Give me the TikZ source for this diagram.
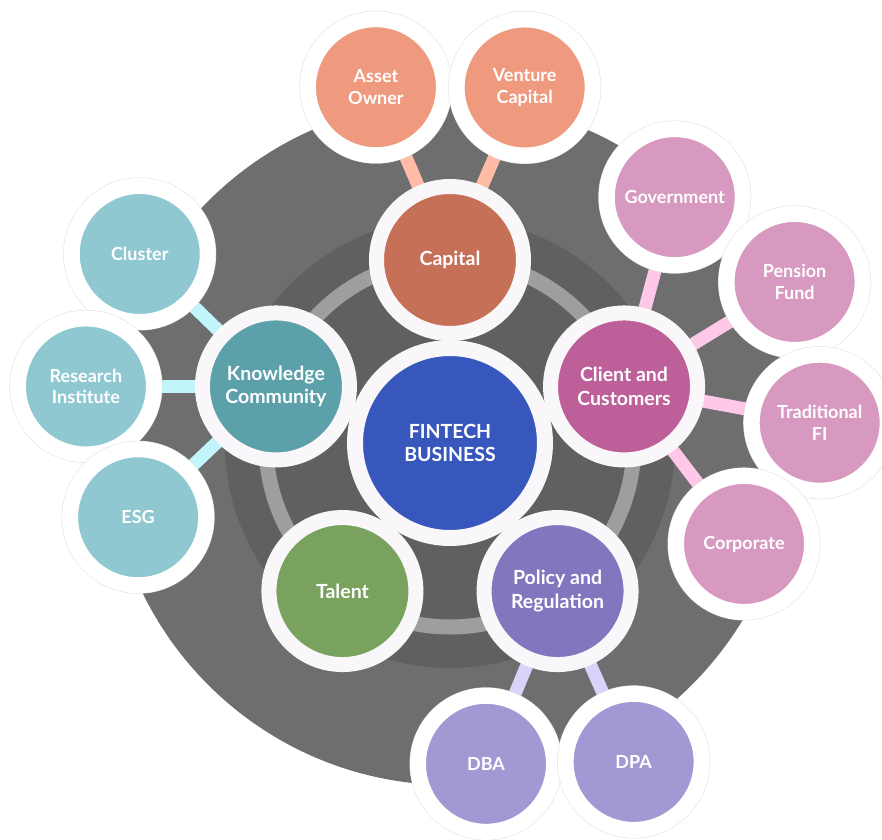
\documentclass[tikz,border=0pt]{standalone}
\usepackage{fontspec}
\setmainfont{Lato}
\usetikzlibrary{backgrounds}

\definecolor{outerdisc}{HTML}{6E6E6E}
\definecolor{innerdisc}{HTML}{606060}
\definecolor{orbit}{HTML}{9E9E9E}
\definecolor{ringwhite}{HTML}{F9F7F9}
\definecolor{core}{HTML}{3757BD}
\definecolor{capital}{HTML}{C67058}
\definecolor{capsub}{HTML}{EF9A7E}
\definecolor{capline}{HTML}{FFBBA6}
\definecolor{knowledge}{HTML}{5CA0AA}
\definecolor{knowsub}{HTML}{8FC8D1}
\definecolor{knowline}{HTML}{C2F5FB}
\definecolor{client}{HTML}{BD5F99}
\definecolor{clientsub}{HTML}{D799BF}
\definecolor{clientline}{HTML}{FFC8E9}
\definecolor{talent}{HTML}{79A25F}
\definecolor{policy}{HTML}{8277BE}
\definecolor{policysub}{HTML}{A398D3}
\definecolor{policyline}{HTML}{D9D2FA}

\tikzset{
  bubble/.style={circle, inner sep=0pt, align=center, text=white,
    font=\bfseries\fontsize{19.5}{23.3}\selectfont},
  hub/.style={bubble, fill=#1, draw=ringwhite, line width=15pt, minimum size=147pt},
  leaf/.style={bubble, fill=#1, draw=white, line width=16pt, minimum size=136pt,
    preaction={draw=black!13, line width=17pt},
    font=\bfseries\fontsize{18}{21.5}\selectfont},
  link/.style={draw=#1, line width=13pt}
}

\begin{document}
\begin{tikzpicture}[x=1pt, y=1pt]
  \useasboundingbox (-450,-396) rectangle (432,443);

  % centre and the five hubs
  \node[hub=core, line width=16pt, minimum size=190pt] (core) at (0,0) {FINTECH\\BUSINESS};
  \node[hub=capital] (cap) at (90:183) {Capital};
  \node[hub=knowledge] (kc) at (162:183) {Knowledge\\Community};
  \node[hub=talent] (talent) at (234:183) {Talent};
  \node[hub=policy] (pol) at (306:183) {Policy and\\Regulation};
  \node[hub=client] (cli) at (18:183) {Client and\\Customers};

  % outer ring of bubbles
  \node[leaf=capsub] (asset) at ([shift={(113.2:188)}]cap) {Asset\\Owner};
  \node[leaf=capsub] (venture) at ([shift={(66.6:188)}]cap) {Venture\\Capital};

  \foreach \ang/\name/\txt in {135.8/cluster/Cluster, 180/research/{Research\\Institute}, 223.5/esg/ESG}
    \node[leaf=knowsub] (\name) at ([shift={(\ang:190)}]kc) {\txt};

  \foreach \ang/\dist/\name/\txt in {75/196/gov/Government, 31.5/200/pension/{Pension\\Fund},
      -10.5/199/tradfi/{Traditional\\FI}, -52.7/198/corp/Corporate}
    \node[leaf=clientsub] (\name) at ([shift={(\ang:\dist)}]cli) {\txt};

  \node[leaf=policysub] (dba) at ([shift={(247.5:187)}]pol) {DBA};
  \node[leaf=policysub] (dpa) at ([shift={(294:187)}]pol) {DPA};

  \begin{scope}[on background layer]
    \fill[outerdisc] (core.center) circle (342);
    \fill[innerdisc] (core.center) circle (225);
    \draw[orbit, line width=15pt] (core.center) circle (184);
    % spokes
    \foreach \name in {asset, venture} \draw[link=capline] (cap.center) -- (\name.center);
    \foreach \name in {cluster, research, esg} \draw[link=knowline] (kc.center) -- (\name.center);
    \foreach \name in {gov, pension, tradfi, corp} \draw[link=clientline] (cli.center) -- (\name.center);
    \foreach \name in {dba, dpa} \draw[link=policyline] (pol.center) -- (\name.center);
  \end{scope}
\end{tikzpicture}
\end{document}
